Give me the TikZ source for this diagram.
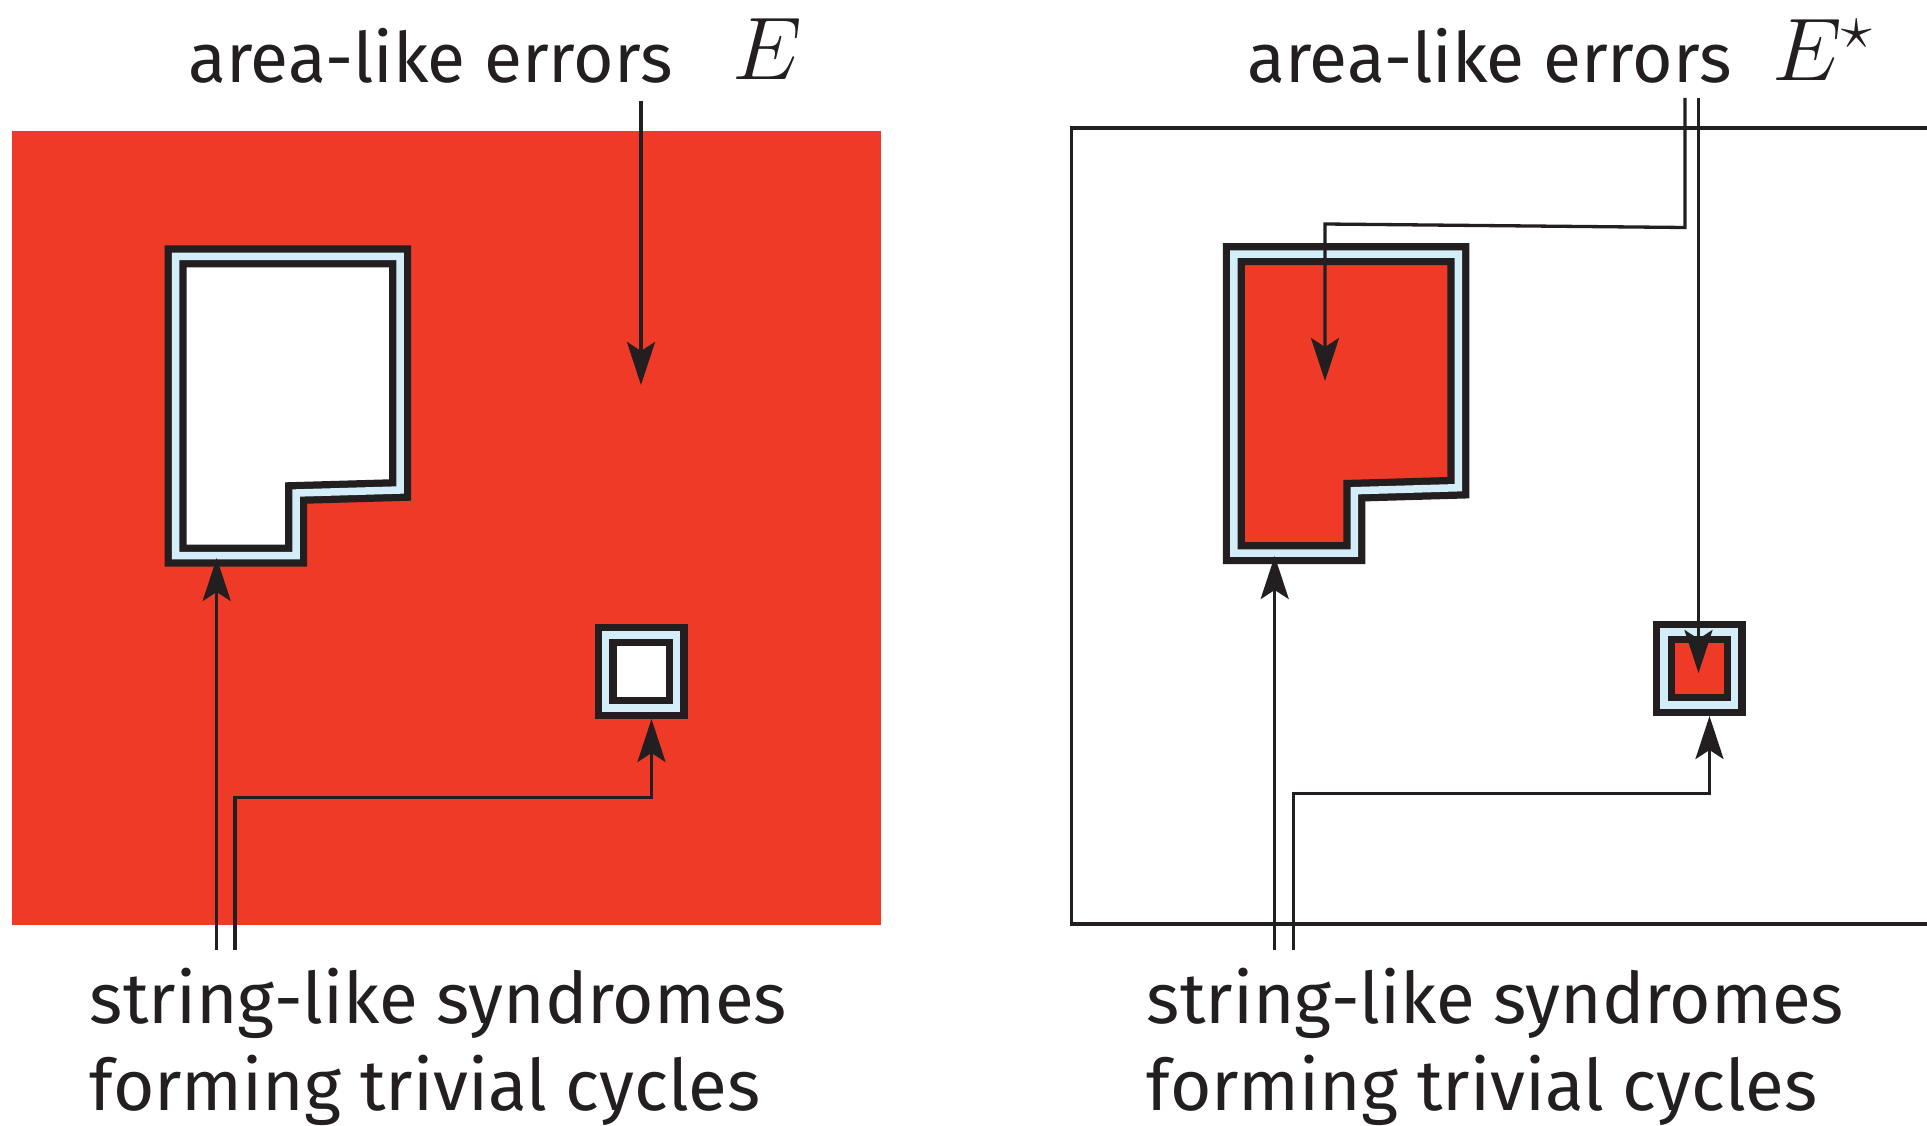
\documentclass[tikz,border=0pt]{standalone}
\usepackage{fix-cm}
\usepackage{fontspec}
\setmainfont{Fira Sans}
\usetikzlibrary{arrows.meta}
\definecolor{errred}{HTML}{EE3A26}
\definecolor{synblue}{HTML}{D3EEF9}
\definecolor{ink}{HTML}{231F20}

\begin{document}
\begin{tikzpicture}[x=1pt,y=-1pt,
  ring/.style={draw=ink,line width=22pt,line join=miter,postaction={draw=synblue,line width=7.5pt,line join=miter}},
  ptr/.style={draw=ink,line width=3.3pt,-{Stealth[length=43pt,width=28pt,inset=9pt]}},
  wire/.style={draw=ink,line width=3.3pt},
  lbl/.style={anchor=base west,inner sep=0pt,text=ink,font=\fontsize{69.5}{87}\selectfont},
  sym/.style={anchor=base west,inner sep=0pt,text=ink,font=\fontsize{89}{90}\selectfont}]
\path[use as bounding box] (0,0) rectangle (1927,1126);
% left panel: E
\fill[errred] (12,131) rectangle (881,925);
\path[fill=white,ring] (175.5,256.3) -- (400,256.3) -- (400,490) -- (296,493) -- (296,555.5) -- (175.5,555.5) -- cycle;
\path[fill=white,ring] (605.5,635) -- (676.5,635) -- (676.5,707.8) -- (605.5,707.8) -- cycle;
\node[lbl] (errL) at (188,83) {area-like errors};
\node[sym] (symL) at (732,80) {$E$};
\node[lbl,align=left,font=\fontsize{71}{87}\selectfont] (synL) at (89.7,1110) {string-like syndromes\\forming trivial cycles};
\coordinate (lE0) at (641,101);
\coordinate (lE1) at (641,385);
\coordinate (lS0) at (216.7,950);
\coordinate (lS1) at (216.7,558);
\coordinate (lT0) at (235,950);
\coordinate (lT1) at (651.5,719);
\draw[ptr] (lE0) -- (lE1);
\draw[ptr] (lS0) -- (lS1);
\draw[ptr] (lT0) -- ++(0,-152.3) -| (lT1);
% right panel: complement E*
\draw[wire] (1927,128) -- (1071.7,128) -- (1071.7,924) -- (1927,924);
\path[fill=errred,ring] (1233.9,254) -- (1458.4,254) -- (1458.4,487.7) -- (1354.4,490.7) -- (1354.4,553.2) -- (1233.9,553.2) -- cycle;
\path[fill=errred,ring] (1663.8,632) -- (1734.5,632) -- (1734.5,705.2) -- (1663.8,705.2) -- cycle;
\node[lbl] (errR) at (1247,83) {area-like errors};
\node[sym] (symR) at (1772,81) {$E^\star$};
\node[lbl,align=left,font=\fontsize{71}{87}\selectfont] (synR) at (1146.7,1110) {string-like syndromes\\forming trivial cycles};
\coordinate (rE0) at (1685,98);
\coordinate (rE1) at (1325,381);
\coordinate (rF0) at (1698.5,98);
\coordinate (rF1) at (1698.5,673);
\coordinate (rS0) at (1274.7,950);
\coordinate (rS1) at (1274.7,556);
\coordinate (rT0) at (1293.5,950);
\coordinate (rT1) at (1709.5,716);
\draw[ptr] (rE0) -- (1685,227.5) -- (1325,224) -- (rE1);
\draw[ptr] (rF0) -- (rF1);
\draw[ptr] (rS0) -- (rS1);
\draw[ptr] (rT0) -- ++(0,-156.5) -| (rT1);
\end{tikzpicture}
\end{document}
